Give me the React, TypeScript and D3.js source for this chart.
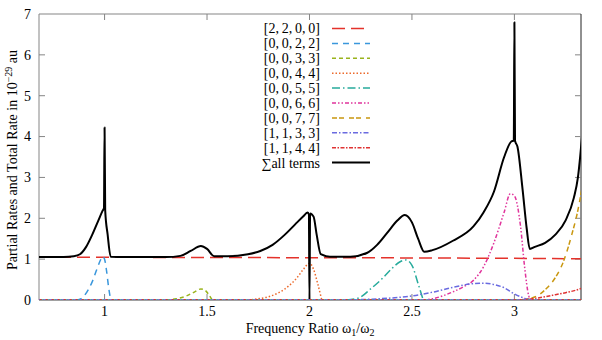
import { useEffect, useRef } from 'react';
import * as d3 from 'd3';

type Pt = [number, number];

const xTicks = [1, 1.5, 2, 2.5, 3];
const yTicks = [0, 1, 2, 3, 4, 5, 6, 7];

const s2200: Pt[] = [[0.68, 1.05], [1.5, 1.04], [2.5, 1.03], [3.33, 1.01]];
const s0022: Pt[] = [[0.86, 0], [0.88, 0.02], [0.9, 0.1], [0.92, 0.25], [0.94, 0.45], [0.96, 0.72], [0.98, 0.98], [0.99, 1.07], [1.0, 1.0], [1.01, 0.7], [1.02, 0.3], [1.03, 0]];
const s0033: Pt[] = [[1.3, 0], [1.35, 0.03], [1.4, 0.1], [1.44, 0.2], [1.47, 0.27], [1.49, 0.24], [1.51, 0.12], [1.525, 0]];
const s0044: Pt[] = [[1.7, 0], [1.75, 0.03], [1.8, 0.08], [1.85, 0.18], [1.9, 0.35], [1.94, 0.55], [1.97, 0.75], [2.0, 0.9], [2.02, 0.75], [2.04, 0.4], [2.06, 0]];
const s0055: Pt[] = [[2.18, 0], [2.24, 0.05], [2.3, 0.28], [2.35, 0.5], [2.4, 0.76], [2.44, 0.93], [2.47, 0.98], [2.5, 0.85], [2.53, 0.4], [2.555, 0]];
const s0066: Pt[] = [[2.55, 0], [2.6, 0.03], [2.65, 0.1], [2.7, 0.2], [2.75, 0.32], [2.8, 0.48], [2.85, 0.82], [2.9, 1.4], [2.95, 2.15], [2.98, 2.6], [3.0, 2.55], [3.03, 1.8], [3.05, 0.8], [3.07, 0.1], [3.08, 0]];
const s0077: Pt[] = [[3.05, 0], [3.08, 0.04], [3.12, 0.13], [3.16, 0.3], [3.2, 0.55], [3.24, 0.95], [3.28, 1.6], [3.31, 2.2], [3.33, 2.75]];
const s1133: Pt[] = [[2.2, 0], [2.3, 0.02], [2.4, 0.05], [2.5, 0.1], [2.6, 0.19], [2.7, 0.31], [2.8, 0.4], [2.85, 0.41], [2.9, 0.38], [2.95, 0.3], [3.0, 0.15], [3.05, 0.04], [3.08, 0]];
const s1144: Pt[] = [[2.95, 0], [3.05, 0.01], [3.1, 0.04], [3.15, 0.08], [3.2, 0.13], [3.25, 0.18], [3.3, 0.24], [3.33, 0.29]];
const sTotal: Pt[] = [
  [0.68, 1.05], [0.8, 1.05], [0.85, 1.07], [0.88, 1.12], [0.91, 1.3], [0.94, 1.6], [0.97, 1.95], [0.99, 2.18], [0.997, 2.25],
  [1.0, 4.22], [1.003, 2.2], [1.015, 1.6], [1.03, 1.06], [1.1, 1.05], [1.3, 1.05], [1.37, 1.08], [1.42, 1.2], [1.47, 1.32],
  [1.5, 1.25], [1.535, 1.07], [1.6, 1.07], [1.7, 1.12], [1.76, 1.2], [1.82, 1.35], [1.88, 1.6], [1.93, 1.85], [1.97, 2.05],
  [1.99, 2.14], [1.997, 2.1], [2.0, 0], [2.003, 2.12], [2.02, 2.04], [2.035, 1.6], [2.055, 1.12], [2.1, 1.06], [2.2, 1.06],
  [2.28, 1.15], [2.33, 1.35], [2.38, 1.65], [2.43, 1.95], [2.465, 2.08], [2.5, 1.9], [2.53, 1.5], [2.56, 1.18], [2.6, 1.22],
  [2.7, 1.45], [2.8, 1.8], [2.85, 2.15], [2.9, 2.65], [2.95, 3.5], [2.985, 3.88], [2.997, 3.9], [3.0, 6.8], [3.003, 3.9],
  [3.015, 3.75], [3.04, 2.7], [3.06, 1.75], [3.075, 1.25], [3.1, 1.3], [3.15, 1.4], [3.2, 1.6], [3.25, 1.95], [3.29, 2.5],
  [3.31, 3.0], [3.33, 4.0],
];

const seriesNames = ['[2,\u20092,\u20090,\u20090]', '[0,\u20090,\u20092,\u20092]', '[0,\u20090,\u20093,\u20093]', '[0,\u20090,\u20094,\u20094]', '[0,\u20090,\u20095,\u20095]', '[0,\u20090,\u20096,\u20096]', '[0,\u20090,\u20097,\u20097]', '[1,\u20091,\u20093,\u20093]', '[1,\u20091,\u20094,\u20094]', '∑all terms'];
const seriesData = [s2200, s0022, s0033, s0044, s0055, s0066, s0077, s1133, s1144, sTotal];
const seriesColors = ['#e4322b', '#3a97dc', '#9ab31c', '#ec6a2c', '#27ab9c', '#e0359c', '#c9970f', '#6a6be0', '#df3333', '#000000'];
const seriesDash = ['13,6', '6,5', '4,3', '1.5,2', '8,3,1.5,3', '4,2,1.5,2,1.5,2', '5,2,5,5', '5,2,1.5,2', '4,1.5,1.5,1.5', null];

export default function App() {
  const svgRef = useRef<SVGSVGElement>(null);

  useEffect(() => {
    if (!svgRef.current) return;
    const svg = d3.select(svgRef.current);
    svg.selectAll('*').remove();

    const left = 39, right = 581, top = 14, bottom = 300;
    const x = d3.scaleLinear().domain([0.68, 3.325]).range([left, right]);
    const y = d3.scaleLinear().domain([0, 7]).range([bottom, top]);
    const font = 'Liberation Serif, Times New Roman, DejaVu Serif, serif';

    const clip = svg.append('defs').append('clipPath').attr('id', 'plotclip');
    clip.append('rect').attr('x', left).attr('y', top - 1).attr('width', right - left).attr('height', bottom - top + 1);

    // frame
    const axisColor = '#858585';
    svg.append('line').attr('x1', left).attr('x2', right).attr('y1', top).attr('y2', top).attr('stroke', axisColor);
    svg.append('line').attr('x1', left).attr('x2', left).attr('y1', top).attr('y2', bottom).attr('stroke', axisColor);
    svg.append('line').attr('x1', right).attr('x2', right).attr('y1', top).attr('y2', bottom).attr('stroke', '#222');
    svg.append('line').attr('x1', left).attr('x2', right).attr('y1', bottom).attr('y2', bottom).attr('stroke', '#444');

    // ticks
    const tl = 6;
    yTicks.filter(t => t > 0 && t < 7).forEach(t => {
      svg.append('line').attr('x1', left).attr('x2', left + tl).attr('y1', y(t)).attr('y2', y(t)).attr('stroke', axisColor);
      svg.append('line').attr('x1', right).attr('x2', right - tl).attr('y1', y(t)).attr('y2', y(t)).attr('stroke', axisColor);
    });
    xTicks.forEach(t => {
      svg.append('line').attr('x1', x(t)).attr('x2', x(t)).attr('y1', bottom).attr('y2', bottom - tl).attr('stroke', axisColor);
      svg.append('line').attr('x1', x(t)).attr('x2', x(t)).attr('y1', top).attr('y2', top + tl).attr('stroke', axisColor);
    });

    // tick labels
    svg.append('g').selectAll('text').data(yTicks).enter().append('text')
      .attr('x', left - 8).attr('y', d => y(d)).attr('dy', '0.35em')
      .attr('text-anchor', 'end').attr('font-family', font).attr('font-size', 14)
      .text(d => String(d));
    svg.append('g').selectAll('text').data(xTicks).enter().append('text')
      .attr('x', d => x(d)).attr('y', bottom + 16)
      .attr('text-anchor', 'middle').attr('font-family', font).attr('font-size', 14)
      .text(d => String(d));

    // axis titles
    const yl = svg.append('text')
      .attr('transform', `translate(17,${(top + bottom) / 2 + 3}) rotate(-90)`)
      .attr('text-anchor', 'middle').attr('font-family', font).attr('font-size', 14);
    yl.append('tspan').text('Partial Rates and Total Rate in 10');
    yl.append('tspan').attr('dy', -5).attr('font-size', 10).text('−29');
    yl.append('tspan').attr('dy', 5).text(' au');

    const xl = svg.append('text')
      .attr('x', 310).attr('y', 333)
      .attr('text-anchor', 'middle').attr('font-family', font).attr('font-size', 14);
    xl.append('tspan').text('Frequency Ratio ω');
    xl.append('tspan').attr('dy', 3).attr('font-size', 10).text('1');
    xl.append('tspan').attr('dy', -3).text('/ω');
    xl.append('tspan').attr('dy', 3).attr('font-size', 10).text('2');

    // curves
    const line = d3.line<Pt>().x(d => x(d[0])).y(d => y(d[1])).curve(d3.curveMonotoneX);
    const plot = svg.append('g').attr('clip-path', 'url(#plotclip)');
    seriesData.forEach((data, i) => {
      plot.append('path')
        .attr('d', line(data))
        .attr('fill', 'none')
        .attr('stroke', seriesColors[i])
        .attr('stroke-width', i === 9 ? 2 : 1.5)
        .attr('stroke-dasharray', seriesDash[i] ?? null)
        .attr('stroke-linejoin', 'round');
    });

    // zero line where all partial rates sit
    ['#e4322b', '#6a6be0', '#27ab9c'].forEach((c, i) => {
      plot.append('line').attr('x1', left).attr('x2', right).attr('y1', bottom - 0.5 + i * 0.3).attr('y2', bottom - 0.5 + i * 0.3)
        .attr('stroke', c).attr('stroke-width', 1).attr('stroke-dasharray', '3,3').attr('stroke-dashoffset', i * 2);
    });

    // legend
    const lg = svg.append('g');
    seriesNames.forEach((name, i) => {
      const ly = 28.5 + i * 14.9;
      lg.append('text').attr('x', 320).attr('y', ly).attr('dy', '0.35em')
        .attr('text-anchor', 'end').attr('font-family', font).attr('font-size', 14)
        .text(name);
      lg.append('line').attr('x1', 332).attr('x2', 370).attr('y1', ly).attr('y2', ly)
        .attr('stroke', seriesColors[i]).attr('stroke-width', i === 9 ? 2 : 1.5)
        .attr('stroke-dasharray', seriesDash[i] ?? null);
    });
  }, []);

  return (
    <svg ref={svgRef} width={602} height={340}
      style={{ position: 'absolute', left: 0, top: 0, background: '#fff' }} />
  );
}
